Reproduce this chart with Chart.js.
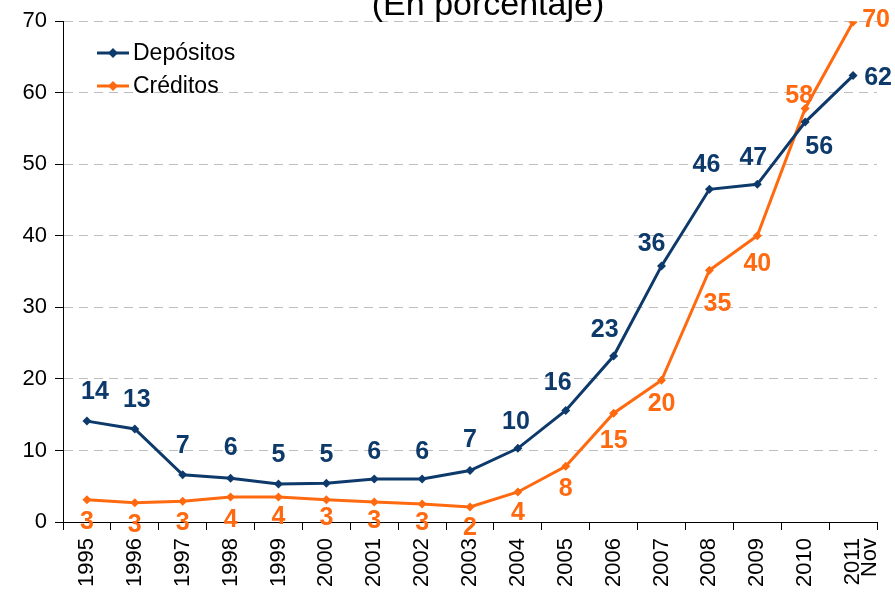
<!DOCTYPE html>
<html>
<head>
<meta charset="utf-8">
<script src="https://cdn.jsdelivr.net/npm/chart.js@4"></script>
<style>
  html, body { margin: 0; padding: 0; background: #fff; }
  #wrap { width: 895px; height: 592px; }
</style>
</head>
<body>
<div id="wrap"><canvas id="mainGraph"></canvas></div>
<script>
var ctx = document.getElementById('mainGraph').getContext('2d');

const years = ["1995","1996","1997","1998","1999","2000","2001","2002","2003",
  "2004","2005","2006","2007","2008","2009","2010",["2011","Nov"]];
const depositos = [14.1,13.0,6.6,6.1,5.3,5.4,6.0,6.0,7.2,10.3,15.6,23.2,35.8,46.5,47.2,55.9,62.4];
const creditos  = [3.1,2.7,2.9,3.5,3.5,3.1,2.8,2.5,2.1,4.2,7.8,15.2,19.8,35.2,40.0,57.8,69.9];
const depLabels = ["14","13","7","6","5","5","6","6","7","10","16","23","36","46","47","56","62"];
const creLabels = ["3","3","3","4","4","3","3","3","2","4","8","15","20","35","40","58","70"];
const yTicks = [0,10,20,30,40,50,60,70];

const BLUE = "#0D3A6B";
const ORANGE = "#FF6A10";

// label offsets from each point (dx, dy)
const depOffsets = [[8,-29],[2,-29],[0,-29],[0,-30],[0,-29],[0,-28],[0,-27],[0,-27],[0,-30],
  [-2,-26],[-8,-27],[-9,-26],[-10,-22],[-3,-24],[-4,-26],[14,25],[25,3]];
const creOffsets = [[0,22],[0,22],[0,22],[0,23],[0,20],[0,18],[0,19],[0,19],[0,21],
  [0,21],[0,23],[0,28],[0,24],[8,34],[0,28],[-6,-12],[23,-2]];

const labelPlugin = {
  id: 'labels',
  afterDatasetsDraw(chart) {
    const c = chart.ctx;
    const sets = [[depLabels, depOffsets, BLUE], [creLabels, creOffsets, ORANGE]];
    c.save();
    c.font = 'bold 25px "Liberation Sans", Arial, sans-serif';
    c.textAlign = 'center';
    c.textBaseline = 'middle';
    sets.forEach(function (s, di) {
      const meta = chart.getDatasetMeta(di);
      c.fillStyle = s[2];
      meta.data.forEach(function (pt, i) {
        c.fillText(s[0][i], pt.x + s[1][i][0], pt.y + s[1][i][1]);
      });
    });
    c.restore();
  },
  afterDraw(chart) {
    const c = chart.ctx;
    c.save();
    // title, cut off at the top
    c.fillStyle = '#000';
    c.font = '34px "Liberation Sans", Arial, sans-serif';
    c.textAlign = 'center';
    c.textBaseline = 'alphabetic';
    c.fillText('(En porcentaje)', 488, 15);
    // legend
    const items = [['Depósitos', BLUE, 53], ['Créditos', ORANGE, 86]];
    c.font = '23px "Liberation Sans", Arial, sans-serif';
    c.textAlign = 'left';
    c.textBaseline = 'middle';
    items.forEach(function (it) {
      c.strokeStyle = it[1];
      c.lineWidth = 3;
      c.beginPath();
      c.moveTo(97, it[2]);
      c.lineTo(129, it[2]);
      c.stroke();
      c.fillStyle = it[1];
      c.beginPath();
      c.moveTo(113, it[2] - 5);
      c.lineTo(118, it[2]);
      c.lineTo(113, it[2] + 5);
      c.lineTo(108, it[2]);
      c.closePath();
      c.fill();
      c.fillStyle = '#000';
      c.fillText(it[0], 133, it[2] + 1);
    });
    c.restore();
  }
};

const data = {
  labels: years,
  datasets: [
    {
      label: 'Depósitos',
      data: depositos,
      borderColor: BLUE,
      backgroundColor: BLUE,
      borderWidth: 3,
      pointStyle: 'rectRot',
      pointRadius: 4.5,
      pointBorderWidth: 0,
      tension: 0
    },
    {
      label: 'Créditos',
      data: creditos,
      borderColor: ORANGE,
      backgroundColor: ORANGE,
      borderWidth: 3,
      pointStyle: 'rectRot',
      pointRadius: 4.5,
      pointBorderWidth: 0,
      tension: 0
    }
  ]
};

var chart = new Chart(ctx, {
    type: 'line',
    data: data,
    plugins: [labelPlugin],
    options: {
        responsive: true,
        maintainAspectRatio: false,
        animation: false,
        layout: { padding: { top: 21, right: 18, left: 0, bottom: 0 } },
        plugins: {
          legend: { display: false },
          title: { display: false },
          tooltip: { enabled: false }
        },
        scales: {
          x: {
            offset: true,
            grid: {
              offset: true,
              drawOnChartArea: false,
              tickLength: 8,
              tickColor: '#000',
              tickWidth: 1
            },
            border: { color: '#000', width: 1 },
            ticks: {
              color: '#000',
              font: { family: '"Liberation Sans", Arial, sans-serif', size: 22, lineHeight: 0.78 },
              maxRotation: 90,
              minRotation: 90,
              autoSkip: false,
              padding: 8
            },
            afterFit(scale) {
              scale.height = 70;
              scale.paddingLeft = 0;
              scale.paddingRight = 0;
            }
          },
          y: {
            min: 0,
            max: 70,
            afterBuildTicks(scale) {
              scale.ticks = yTicks.map(function (v) { return { value: v }; });
            },
            grid: {
              color: function (c) { return c.tick && c.tick.value === 0 ? 'rgba(0,0,0,0)' : '#BEBEBE'; },
              tickLength: 8,
              tickColor: '#000',
              tickBorderDash: [],
              lineWidth: 1
            },
            border: { color: '#000', width: 1, dash: [9, 6] },
            ticks: {
              color: '#000',
              font: { family: '"Liberation Sans", Arial, sans-serif', size: 22 },
              padding: 8
            },
            afterFit(scale) {
              scale.width = 63;
            }
          }
        }
      }
});
</script>
</body>
</html>
